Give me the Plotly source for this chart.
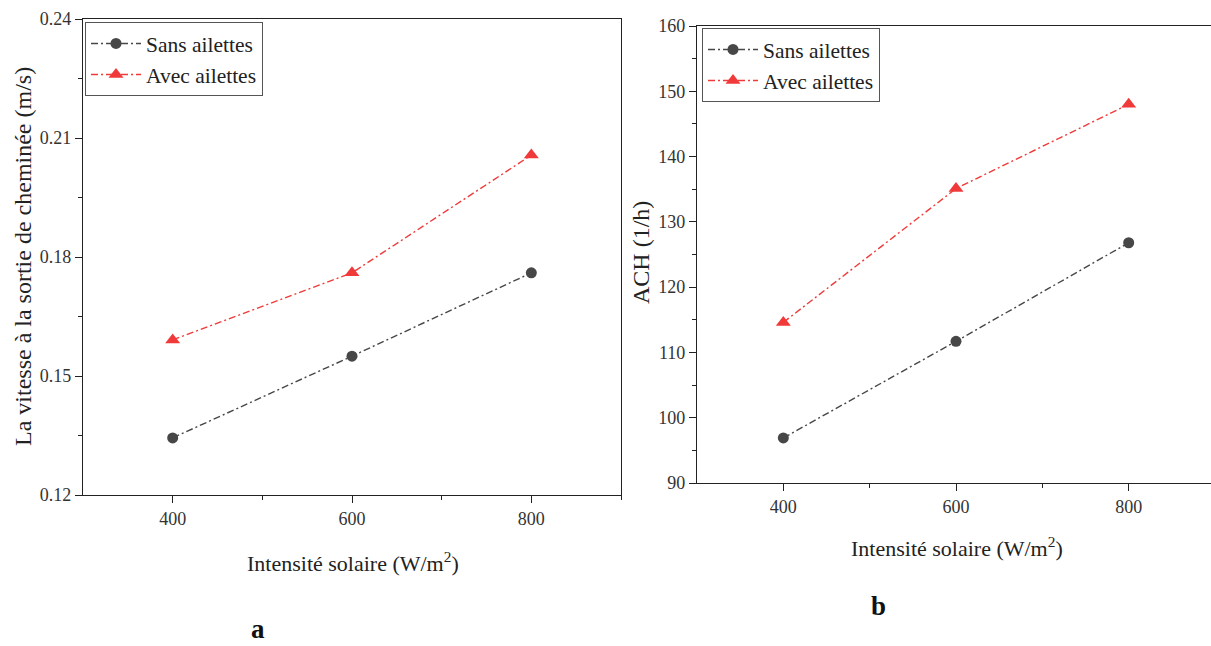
import plotly.graph_objects as go

# Solar intensity levels (W/m²)
intensite = [400, 600, 800]

# (a) Air velocity at chimney outlet (m/s)
vitesse_sans = [0.1344, 0.1550, 0.1760]
vitesse_avec = [0.1591, 0.1760, 0.2057]

# (b) Air changes per hour (1/h)
ach_sans = [96.9, 111.7, 126.8]
ach_avec = [114.6, 135.1, 148.0]

W, H = 1211, 646
SERIF = "Liberation Serif, Times New Roman, serif"
GREY = "#474747"
RED = "#f03a3a"
DASH = "7px,3px,2px,3px"


def px_x(v):
    return v / W


def px_y(v):
    return 1 - v / H


fig = go.Figure()

series = [
    ("Sans ailettes", GREY, "circle", 11),
    ("Avec ailettes", RED, "triangle-up", 13),
]

for (name, col, sym, size), ya, yb in zip(series, [vitesse_sans, vitesse_avec], [ach_sans, ach_avec]):
    fig.add_trace(go.Scatter(
        x=intensite, y=ya, name=name, mode="lines+markers",
        line=dict(color=col, width=1.4, dash=DASH),
        marker=dict(color=col, symbol=sym, size=size),
        xaxis="x", yaxis="y", legend="legend",
    ))
    fig.add_trace(go.Scatter(
        x=intensite, y=yb, name=name, mode="lines+markers",
        line=dict(color=col, width=1.4, dash=DASH),
        marker=dict(color=col, symbol=sym, size=size),
        xaxis="x2", yaxis="y2", legend="legend2",
    ))

axis_common = dict(
    automargin=False,
    showgrid=False, zeroline=False, showline=True, linecolor="#222", linewidth=1.3,
    ticks="outside", ticklen=7, tickwidth=1.2, tickcolor="#222",
    tickfont=dict(family=SERIF, size=18, color="#333"),
)
minor = dict(ticks="outside", ticklen=4, tickwidth=1.2, tickcolor="#222", showgrid=False)

legend_style = dict(
    xanchor="left", yanchor="top",
    bgcolor="white", bordercolor="#555", borderwidth=1,
    font=dict(family=SERIF, size=21.5, color="#222"),
    itemwidth=50, tracegroupgap=0,
)

# right panel runs off the page edge: 800 sits at x=1129, 200 units = 172px
x2_end = 800 + (W - 1129) / 0.86

fig.update_layout(
    width=W, height=H,
    margin=dict(l=0, r=0, t=0, b=0, pad=0),
    paper_bgcolor="white", plot_bgcolor="white",
    showlegend=True,
    xaxis=dict(axis_common, domain=[px_x(83), px_x(621)], range=[300, 900],
               tickvals=[400, 600, 800], minor=dict(minor, tickvals=[500, 700, 900]),
               mirror=True, anchor="y"),
    yaxis=dict(axis_common, domain=[px_y(495), px_y(19)], range=[0.12, 0.24],
               tickvals=[0.12, 0.15, 0.18, 0.21, 0.24], tickformat=".2f",
               minor=dict(minor, dtick=0.015, tick0=0.12),
               mirror=True, anchor="x"),
    xaxis2=dict(axis_common, domain=[px_x(697), 1.0], range=[300, x2_end],
                tickvals=[400, 600, 800], minor=dict(minor, tickvals=[500, 700]),
                mirror=True, anchor="y2"),
    yaxis2=dict(axis_common, domain=[px_y(483), px_y(26)], range=[90, 160],
                tickvals=[90, 100, 110, 120, 130, 140, 150, 160],
                minor=dict(minor, dtick=5, tick0=90),
                mirror=False, anchor="x2"),
    legend=dict(legend_style, x=px_x(85), y=px_y(22)),
    legend2=dict(legend_style, x=px_x(702), y=px_y(28)),
)

titles = [
    (23, 257, "La vitesse à la sortie de cheminée (m/s)", -90, 24),
    (641, 253, "ACH (1/h)", -90, 24),
    (353, 562, "Intensité solaire (W/m<sup>2</sup>)", 0, 22),
    (957, 547, "Intensité solaire (W/m<sup>2</sup>)", 0, 22),
]
for xx, yy, txt, ang, sz in titles:
    fig.add_annotation(x=px_x(xx), y=px_y(yy), xref="paper", yref="paper",
                       xanchor="center", yanchor="middle",
                       text=txt, textangle=ang, showarrow=False,
                       font=dict(family=SERIF, size=sz, color="#222"))

# panel letters
fig.add_annotation(x=px_x(258), y=0, xref="paper", yref="paper",
                   xanchor="center", yanchor="bottom",
                   text="<b>a</b>", showarrow=False,
                   font=dict(family=SERIF, size=27, color="#111"))
fig.add_annotation(x=px_x(878), y=px_y(606), xref="paper", yref="paper",
                   xanchor="center", yanchor="middle",
                   text="<b>b</b>", showarrow=False,
                   font=dict(family=SERIF, size=27, color="#111"))

fig.write_html("out.html")
